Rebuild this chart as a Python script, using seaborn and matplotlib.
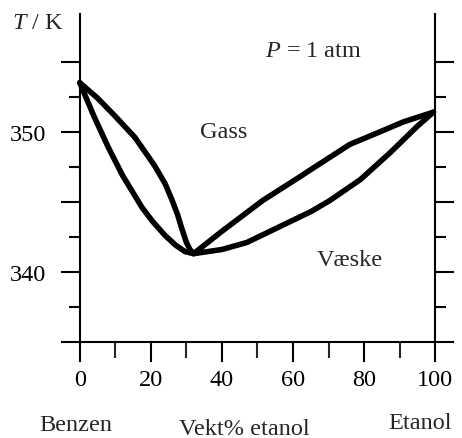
import numpy as np
import pandas as pd
import matplotlib
matplotlib.use("Agg")
import matplotlib.pyplot as plt
import seaborn as sns
from matplotlib.ticker import FixedLocator, FixedFormatter

# Benzen-etanol, kokepunktsdiagram ved 1 atm
x_gas = [0, 5, 10, 15.5, 21, 24, 26, 27.5, 28.7, 30, 31, 32,
         40, 51.5, 62, 65, 76, 84.5, 91, 99.5]
T_gas = [353.5, 352.4, 351.1, 349.6, 347.6, 346.3, 345.1, 344.1, 343.1, 342.1, 341.6, 341.3,
         342.9, 345.1, 346.8, 347.3, 349.1, 350.0, 350.7, 351.4]

x_liq = [0, 4, 8, 12, 17.5, 20.5, 24, 27, 29.6, 32,
         40, 47, 56, 65, 70.4, 79, 87.3, 95, 99.5]
T_liq = [353.5, 351.1, 348.9, 346.9, 344.6, 343.6, 342.6, 341.9, 341.45, 341.3,
         341.6, 342.1, 343.2, 344.3, 345.1, 346.6, 348.5, 350.4, 351.4]

x_major = [0, 20, 40, 60, 80, 100]
x_minor = [10, 30, 50, 70, 90]
y_major = [340, 345, 350, 355]
y_major_labels = ["340", "", "350", ""]
y_minor = [337.5, 342.5, 347.5, 352.5]

sns.set_theme(style="ticks")
plt.rcParams["font.family"] = ["Liberation Serif", "DejaVu Serif"]
plt.rcParams["mathtext.fontset"] = "custom"
plt.rcParams["mathtext.rm"] = "Liberation Serif"
plt.rcParams["mathtext.it"] = "Liberation Serif:italic"

FS = 17.5

fig = plt.figure(figsize=(4.62, 4.39), dpi=100)
ax = fig.add_axes([0.1342, 0.2187, 0.8463, 0.7471])

gas = pd.DataFrame({"x": x_gas, "T": T_gas})
liq = pd.DataFrame({"x": x_liq, "T": T_liq})
for df in (gas, liq):
    sns.lineplot(data=df, x="x", y="T", ax=ax, color="black", lw=4,
                 solid_capstyle="round", solid_joinstyle="round", sort=False)

ax.set_xlim(-5, 105)
ax.set_ylim(335, 358.4)
ax.set_xlabel("")
ax.set_ylabel("")

# akser
ax.spines["top"].set_visible(False)
ax.spines["left"].set_position(("data", 0))
ax.spines["right"].set_position(("data", 100))
for s in ["left", "right", "bottom"]:
    ax.spines[s].set_linewidth(1.5)
    ax.spines[s].set_color("black")

ax.xaxis.set_major_locator(FixedLocator(x_major))
ax.xaxis.set_minor_locator(FixedLocator(x_minor))
ax.yaxis.set_major_locator(FixedLocator(y_major))
ax.yaxis.set_major_formatter(FixedFormatter(y_major_labels))
ax.yaxis.set_minor_locator(FixedLocator(y_minor))

ax.tick_params(axis="x", which="major", direction="out", length=14.4, width=1.5,
               pad=5, labelsize=FS, colors="black")
ax.tick_params(axis="x", which="minor", direction="out", length=11.5, width=1.5)
ax.tick_params(axis="y", which="both", left=True, right=True, labelright=False,
               direction="out", width=1.5, colors="black")
ax.tick_params(axis="y", which="major", length=13.5, pad=10.5, labelsize=FS)
ax.tick_params(axis="y", which="minor", length=8)

# tekster
ax.text(-4.5, 357.8, "$T$ / K", fontsize=FS, ha="right", va="center", clip_on=False)
ax.text(65.6, 355.8, "$P$ = 1 atm", fontsize=FS, ha="center", va="center")
ax.text(40.6, 349.64, "Gass", fontsize=FS, ha="center", va="baseline")
ax.text(76.1, 340.5, "Væske", fontsize=FS, ha="center", va="baseline")
ax.text(-1, 328.7, "Benzen", fontsize=FS, ha="center", va="baseline", clip_on=False)
ax.text(46.3, 328.4, "Vekt% etanol", fontsize=FS, ha="center", va="baseline", clip_on=False)
ax.text(95.8, 328.85, "Etanol", fontsize=FS, ha="center", va="baseline", clip_on=False)

fig.savefig("out.png", dpi=100)
